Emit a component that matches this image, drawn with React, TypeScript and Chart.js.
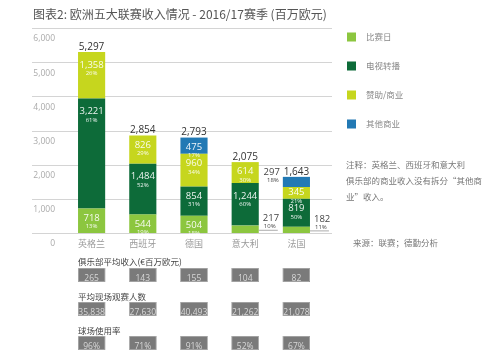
import React, { useEffect, useRef } from 'react';
import { Chart, registerables } from 'chart.js';

Chart.register(...registerables);

// ---------- data ----------
const categories = ['英格兰', '西班牙', '德国', '意大利', '法国'];
const seriesNames = ['比赛日', '电视转播', '赞助/商业', '其他商业'];
const matchday = [718, 544, 504, 217, 182];
const broadcasting = [3221, 1484, 854, 1244, 819];
const commercial = [1358, 826, 960, 614, 345];
const otherCommercial = [0, 0, 475, 0, 297];
const matchdayPct = ['13%', '19%', '18%', '10%', '11%'];
const broadcastingPct = ['61%', '52%', '31%', '60%', '50%'];
const commercialPct = ['26%', '29%', '34%', '30%', '21%'];
const otherPct = ['', '', '17%', '', '18%'];
const totals = [5297, 2854, 2793, 2075, 1643];
const yTicks = [0, 1000, 2000, 3000, 4000, 5000, 6000];

const avgRevenue = ['265', '143', '155', '104', '82'];
const avgAttendance = ['35,838', '27,630', '40,493', '21,262', '21,078'];
const utilisation = ['96%', '71%', '91%', '52%', '67%'];

const titleText = '图表2: 欧洲五大联赛收入情况 - 2016/17赛季 (百万欧元)';
const noteLines = ['注释：英格兰、西班牙和意大利', '俱乐部的商业收入没有拆分“其他商', '业”收入。'];
const sourceText = '来源：联赛；德勤分析';
const tableRows = [
  { title: '俱乐部平均收入(€百万欧元)', values: avgRevenue },
  { title: '平均现场观赛人数', values: avgAttendance },
  { title: '球场使用率', values: utilisation },
];

// ---------- styles ----------
const COLORS = ['#8cc63f', '#0d6b39', '#c6d61e', '#2279b4'];
const NUM = '"Open Sans", "Noto Sans CJK SC", sans-serif';
const CJK = '"Noto Sans CJK SC", sans-serif';
const pctLists = [matchdayPct, broadcastingPct, commercialPct, otherPct];

const fmt = (v: number) => v.toLocaleString('en-US');

const gridPlugin = {
  id: 'fullGrid',
  beforeDatasetsDraw(chart: any) {
    const { ctx, scales } = chart;
    ctx.save();
    ctx.strokeStyle = '#d4d4d4';
    ctx.lineWidth = 1.2;
    yTicks.forEach((v) => {
      const y = Math.round(scales.y.getPixelForValue(v)) + 0.5;
      ctx.beginPath();
      ctx.moveTo(32, y);
      ctx.lineTo(332, y);
      ctx.stroke();
    });
    ctx.restore();
  },
};

const labelPlugin = {
  id: 'segLabels',
  afterDatasetsDraw(chart: any) {
    const { ctx, scales } = chart;
    ctx.save();
    ctx.textAlign = 'center';
    ctx.textBaseline = 'middle';
    chart.data.datasets.forEach((ds: any, d: number) => {
      const meta = chart.getDatasetMeta(d);
      meta.data.forEach((el: any, i: number) => {
        const v = ds.data[i];
        if (!v) return;
        const p = el.getProps(['x', 'y', 'base', 'width'], true);
        const top = Math.min(p.y, p.base);
        const bottom = Math.max(p.y, p.base);
        const h = bottom - top;
        const pct = pctLists[d][i];
        if (h >= 11) {
          const off = h > 40 ? 13 : h >= 14 ? 9.5 : h / 2 - 0.5;
          ctx.fillStyle = 'rgba(255,255,255,0.92)';
          ctx.textAlign = 'center';
          ctx.font = `9.5px ${NUM}`;
          ctx.fillText(fmt(v), p.x, top + off);
          ctx.font = `6px ${NUM}`;
          ctx.fillText(pct, p.x, top + off + 8.5);
        } else {
          const mid = (top + bottom) / 2;
          ctx.fillStyle = '#444';
          if (d === 0) {
            const x0 = p.x + p.width / 2 + 4;
            ctx.textAlign = 'left';
            ctx.font = `9.5px ${NUM}`;
            ctx.fillText(fmt(v), x0, mid - 11);
            ctx.font = `6px ${NUM}`;
            ctx.fillText(pct, x0 + 1, mid - 3);
            ctx.strokeStyle = '#888';
            ctx.lineWidth = 0.7;
            ctx.beginPath();
            ctx.moveTo(p.x + p.width / 2, mid + 1);
            ctx.lineTo(x0 + 15, mid + 1);
            ctx.stroke();
          } else {
            const x0 = p.x - p.width / 2 - 3;
            ctx.textAlign = 'right';
            ctx.font = `9.5px ${NUM}`;
            ctx.fillText(fmt(v), x0, mid - 10);
            ctx.font = `6px ${NUM}`;
            ctx.fillText(pct, x0 - 1, mid - 2);
          }
        }
      });
    });
    // totals
    ctx.fillStyle = '#333';
    ctx.textAlign = 'center';
    ctx.font = `10px ${NUM}`;
    totals.forEach((t, i) => {
      const x = scales.x.getPixelForValue(i);
      const y = scales.y.getPixelForValue(t);
      ctx.fillText(fmt(t), x, y - 5);
    });
    ctx.restore();
  },
};

const decorPlugin = {
  id: 'decor',
  afterDraw(chart: any) {
    const { ctx, scales } = chart;
    ctx.save();
    ctx.textBaseline = 'middle';
    // title
    ctx.fillStyle = '#555';
    ctx.textAlign = 'left';
    ctx.font = `400 12px ${CJK}`;
    ctx.fillText(titleText, 33, 14);

    // legend
    seriesNames.forEach((name, k) => {
      const cy = 37 + k * 29;
      ctx.fillStyle = COLORS[k];
      ctx.fillRect(347, cy - 4.5, 9, 9);
      ctx.fillStyle = '#888';
      ctx.font = `8.5px ${CJK}`;
      ctx.fillText(name, 366, cy);
    });

    // note
    ctx.fillStyle = '#777';
    ctx.font = `8.5px ${CJK}`;
    noteLines.forEach((line, k) => {
      ctx.fillText(line, 346, 165 + k * 16);
    });
    // source
    ctx.fillText(sourceText, 353, 243);

    // bottom table
    const meta = chart.getDatasetMeta(0);
    const headY = [262, 297, 331];
    const boxTop = [268, 302, 336];
    tableRows.forEach((row, r) => {
      ctx.fillStyle = '#444';
      ctx.textAlign = 'left';
      ctx.font = `8.5px ${CJK}`;
      ctx.fillText(row.title, 78, headY[r]);
      row.values.forEach((val, i) => {
        const el = meta.data[i];
        const w = el.width;
        const cx = scales.x.getPixelForValue(i);
        const bx = cx - w / 2;
        ctx.fillStyle = '#7a7a7a';
        ctx.fillRect(bx, boxTop[r], w, 14);
        ctx.strokeStyle = '#bbb';
        ctx.lineWidth = 0.6;
        ctx.strokeRect(bx + 0.3, boxTop[r] + 0.3, w - 0.6, 13.4);
        ctx.fillStyle = '#d8d8d8';
        ctx.textAlign = 'center';
        ctx.font = `8.5px ${NUM}`;
        ctx.fillText(val, cx, boxTop[r] + 10.5);
      });
    });
    ctx.restore();
  },
};

export default function App() {
  const ref = useRef<HTMLCanvasElement>(null);
  useEffect(() => {
    document.body.style.margin = '0';
    const series = [matchday, broadcasting, commercial, otherCommercial];
    const chart = new Chart(ref.current as HTMLCanvasElement, {
      type: 'bar',
      data: {
        labels: categories,
        datasets: series.map((data, k) => ({
          label: seriesNames[k],
          data,
          backgroundColor: COLORS[k],
          borderWidth: 0,
          categoryPercentage: 1,
          barPercentage: 0.53,
        })),
      },
      options: {
        animation: false,
        responsive: false,
        devicePixelRatio: 1,
        layout: { padding: { left: 0, right: 178, top: 28, bottom: 109 } },
        plugins: {
          legend: { display: false },
          title: { display: false },
          tooltip: { enabled: false },
        },
        scales: {
          x: {
            stacked: true,
            grid: { display: false, drawTicks: false },
            border: { display: false },
            ticks: { color: '#9a9a9a', font: { size: 9, family: CJK }, padding: 5 },
            afterFit: (s: any) => { s.height = 20; },
          },
          y: {
            stacked: true,
            min: 0,
            max: 6000,
            grid: { display: false, drawTicks: false },
            border: { display: false },
            ticks: {
              stepSize: 1000,
              color: '#aaa',
              font: { size: 8.5, family: NUM },
              padding: 11,
              labelOffset: 11,
              callback: (v: any) => fmt(Number(v)),
            },
            afterFit: (s: any) => { s.width = 66; },
          },
        },
      } as any,
      plugins: [gridPlugin, labelPlugin, decorPlugin],
    });
    return () => chart.destroy();
  }, []);
  return <canvas ref={ref} width={500} height={362} style={{ display: 'block', width: 500, height: 362 }} />;
}
